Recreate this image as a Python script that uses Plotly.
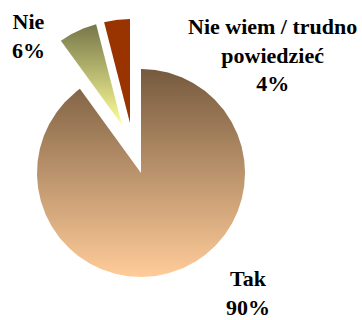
import numpy as np
import plotly.graph_objects as go

# Survey answers and their shares (%)
categories = ["Tak", "Nie", "Nie wiem / trudno powiedzieć"]
shares = [90, 6, 4]
# Category names as broken over lines in the slice labels
label_names = ["Tak", "Nie", "Nie wiem / trudno<br>powiedzieć"]

# ---- styling -------------------------------------------------------------
RADIUS = 104  # pie radius in axis units (1 unit = 1 px)
# offset of each exploded slice from the pie centre
EXPLODE = {
    "Tak": (0, 0),
    "Nie": (-19, 48),
    "Nie wiem / trudno powiedzieć": (-11, 50),
}
# vertical gradient per slice: (bottom colour, top colour)
FILLS = {
    "Tak": ("#ffcc99", "#765a3e"),
    "Nie": ("#ffff99", "#76764a"),
    "Nie wiem / trudno powiedzieć": ("#993300", "#993300"),
}
# label anchor (centre of the text block) in axis units
LABEL_POS = {
    "Tak": (107, -120),
    "Nie": (-113, 137),
    "Nie wiem / trudno powiedzieć": (131, 118),
}
FONT = dict(family="Liberation Serif, Times New Roman, serif", size=22, color="black")

fig = go.Figure()

total = float(sum(shares))
start = 0.0
for cat, share, name in zip(categories, shares, label_names):
    span = 360.0 * share / total
    # angles measured clockwise from 12 o'clock
    theta = np.radians(np.linspace(start, start + span, max(int(span * 2), 8)))
    dx, dy = EXPLODE[cat]
    xs = np.concatenate([[0.0], RADIUS * np.sin(theta), [0.0]]) + dx
    ys = np.concatenate([[0.0], RADIUS * np.cos(theta), [0.0]]) + dy
    bottom, top = FILLS[cat]
    fig.add_trace(go.Scatter(
        x=xs, y=ys, mode="lines", fill="toself",
        line=dict(width=0, color=top),
        fillcolor=top,
        fillgradient=dict(type="vertical", colorscale=[[0, bottom], [1, top]]),
        hoverinfo="skip", showlegend=False, name=cat,
    ))
    lx, ly = LABEL_POS[cat]
    fig.add_annotation(
        x=lx, y=ly, xref="x", yref="y",
        text=f"<b>{name}<br>{share}%</b>",
        showarrow=False, align="center",
        xanchor="center", yanchor="middle", font=FONT,
    )
    start += span

fig.update_xaxes(range=[-141, 221], visible=False, fixedrange=True)
fig.update_yaxes(range=[-147, 173], visible=False, fixedrange=True)
fig.update_layout(
    width=362, height=320,
    margin=dict(l=0, r=0, t=0, b=0),
    paper_bgcolor="white", plot_bgcolor="white",
    showlegend=False,
    font=FONT,
)

fig.write_html("out.html")
